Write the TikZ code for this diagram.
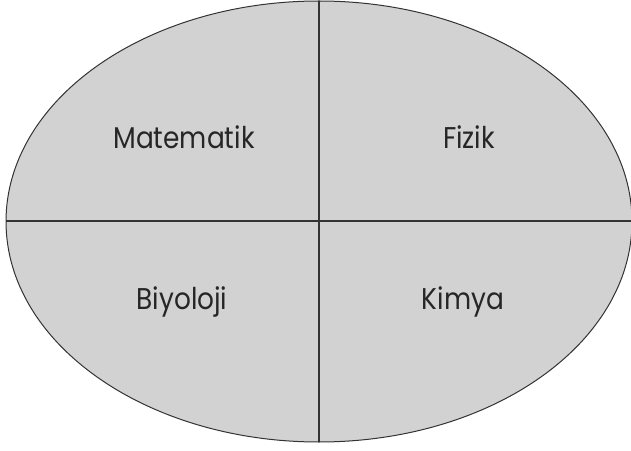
\documentclass[tikz,border=0pt]{standalone}
\usepackage{fontspec}
\setmainfont{Poppins}
\begin{document}
\begin{tikzpicture}[x=1pt,y=1pt,
  lbl/.style={font=\fontsize{30}{34}\selectfont, xscale=0.88, text=black!85, inner sep=0pt, anchor=center},
  edge/.style={draw=black!80, line width=1.3pt}]
\useasboundingbox (0,0) rectangle (631,450);
\fill[gray!35] (319,228.5) ellipse [x radius=313, y radius=220.5];
\draw[edge, line width=1pt] (319,228.5) ellipse [x radius=313, y radius=220.5];
\coordinate (t) at (319,449);
\coordinate (b) at (319,8);
\coordinate (l) at (6,229);
\coordinate (r) at (632,229);
\draw[edge] (t) -- (b);
\draw[edge] (l) -- (r);
\node[lbl] (m) at (184,313) {Matematik};
\node[lbl] (f) at (469,313) {Fizik};
\node[lbl] (bi) at (182,148) {Biyoloji};
\node[lbl] (k) at (463,148) {Kimya};
\end{tikzpicture}
\end{document}
